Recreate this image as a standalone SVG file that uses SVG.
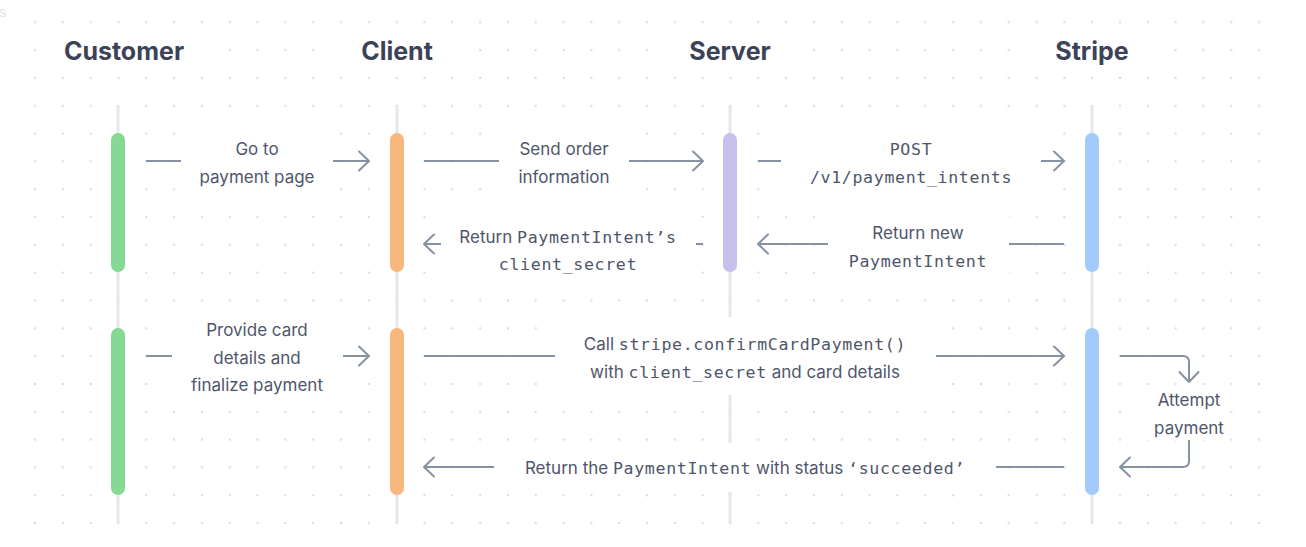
<svg xmlns="http://www.w3.org/2000/svg" width="1306" height="547" viewBox="0 0 1306 547">
<style>
.bg{fill:#ffffff}
.head{font-family:Inter,"Noto Sans","Liberation Sans",sans-serif;font-weight:700;font-size:25px;fill:#3c4257;text-anchor:middle}
.life{stroke:#e3e8ee;stroke-width:3;fill:none}
.lbl{font-family:Inter,"Noto Sans","Liberation Sans",sans-serif;font-size:17px;fill:#4f566b;text-anchor:middle}
.mono{font-family:"DejaVu Sans Mono","Liberation Mono",monospace;font-size:16.6px;letter-spacing:0.65px}
.ln{stroke:#8792a2;stroke-width:2;fill:none;stroke-linecap:butt}
.arr{marker-end:url(#ah)}
</style>
<defs>
<pattern id="dots" x="21.1" y="8.4" width="27.82" height="27.82" patternUnits="userSpaceOnUse">
<circle cx="13.91" cy="13.91" r="1.25" fill="#dadee3"/>
</pattern>
<marker id="ah" markerUnits="userSpaceOnUse" markerWidth="30" markerHeight="30" viewBox="-15 -15 30 30" refX="0" refY="0" orient="auto">
<path d="M-10,-9.5 L0,0 L-10,9.5" stroke="#8792a2" stroke-width="2" fill="none" stroke-linecap="round" stroke-linejoin="round"/>
</marker>
</defs>
<rect x="0" y="0" width="1306" height="547" fill="#ffffff"/>
<rect x="21.1" y="8.4" width="1252" height="529" fill="url(#dots)"/>
<text x="-1" y="17" font-family="Inter,'Liberation Sans',sans-serif" font-size="14" fill="#e1e4e8">s</text>

<g id="customer">
<rect class="bg" x="44" y="31" width="160" height="40"/>
<text class="head" x="124" y="60">Customer</text>
<line class="life" x1="118" y1="105" x2="118" y2="523"/>
<rect x="111" y="133" width="14" height="139" rx="7" fill="#86d995"/>
<rect x="111" y="328" width="14" height="167" rx="7" fill="#86d995"/>
</g>
<g id="client">
<rect class="bg" x="317" y="31" width="160" height="40"/>
<text class="head" x="397" y="60">Client</text>
<line class="life" x1="397" y1="105" x2="397" y2="523"/>
<rect x="390" y="133" width="14" height="139" rx="7" fill="#f8b77f"/>
<rect x="390" y="328" width="14" height="167" rx="7" fill="#f8b77f"/>
</g>
<g id="server">
<rect class="bg" x="650" y="31" width="160" height="40"/>
<text class="head" x="730" y="60">Server</text>
<line class="life" x1="730" y1="105" x2="730" y2="523"/>
<rect x="723" y="133" width="14" height="139" rx="7" fill="#c5c1eb"/>
</g>
<g id="stripe">
<rect class="bg" x="1012" y="31" width="160" height="40"/>
<text class="head" x="1092" y="60">Stripe</text>
<line class="life" x1="1092" y1="105" x2="1092" y2="523"/>
<rect x="1085" y="133" width="14" height="139" rx="7" fill="#a2cbfa"/>
<rect x="1085" y="328" width="14" height="167" rx="7" fill="#a2cbfa"/>
</g>

<g id="connectors">
<g id="m1">
<rect class="bg" x="181" y="122" width="152" height="78"/>
<line class="ln" x1="146" y1="161" x2="181" y2="161"/>
<line class="ln arr" x1="333" y1="161" x2="369" y2="161"/>
<text class="lbl" x="257" y="155">Go to</text>
<text class="lbl" x="257" y="183">payment page</text>
</g>
<g id="m2">
<rect class="bg" x="499" y="122" width="130" height="78"/>
<line class="ln" x1="424" y1="161" x2="499" y2="161"/>
<line class="ln arr" x1="629" y1="161" x2="703" y2="161"/>
<text class="lbl" x="564" y="155">Send order</text>
<text class="lbl" x="564" y="183">information</text>
</g>
<g id="m3">
<rect class="bg" x="781" y="122" width="260" height="78"/>
<line class="ln" x1="758" y1="161" x2="781" y2="161"/>
<line class="ln arr" x1="1041" y1="161" x2="1064" y2="161"/>
<text class="lbl mono" x="911" y="155">POST</text>
<text class="lbl mono" x="911" y="183">/v1/payment_intents</text>
</g>
<g id="m4">
<rect class="bg" x="828" y="205" width="181" height="78"/>
<line class="ln" x1="1064" y1="244" x2="1009" y2="244"/>
<line class="ln arr" x1="828" y1="244" x2="758" y2="244"/>
<text class="lbl" x="918" y="239">Return new</text>
<text class="lbl mono" x="918" y="267">PaymentIntent</text>
</g>
<g id="m5">
<rect class="bg" x="441" y="205" width="255" height="78"/>
<line class="ln" x1="703" y1="244" x2="696" y2="244"/>
<line class="ln arr" x1="441" y1="244" x2="424" y2="244"/>
<text class="lbl" x="568" y="243">Return <tspan class="mono">PaymentIntent’s</tspan></text>
<text class="lbl mono" x="568" y="270">client_secret</text>
</g>
<g id="m6">
<rect class="bg" x="172" y="305" width="171" height="104"/>
<line class="ln" x1="146" y1="356" x2="172" y2="356"/>
<line class="ln arr" x1="343" y1="356" x2="369" y2="356"/>
<text class="lbl" x="257" y="336">Provide card</text>
<text class="lbl" x="257" y="364">details and</text>
<text class="lbl" x="257" y="391">finalize payment</text>
</g>
<g id="m7">
<rect class="bg" x="555" y="317" width="381" height="78"/>
<line class="ln" x1="424" y1="356" x2="555" y2="356"/>
<line class="ln arr" x1="936" y1="356" x2="1064" y2="356"/>
<text class="lbl" x="745" y="350">Call <tspan class="mono">stripe.confirmCardPayment()</tspan></text>
<text class="lbl" x="745" y="378">with <tspan class="mono">client_secret</tspan> and card details</text>
</g>
<g id="m8">
<rect class="bg" x="494" y="443" width="502" height="49"/>
<line class="ln" x1="1064" y1="467" x2="996" y2="467"/>
<line class="ln arr" x1="494" y1="467" x2="424" y2="467"/>
<text class="lbl" x="745" y="474">Return the <tspan class="mono">PaymentIntent</tspan> with status <tspan class="mono">‘succeeded’</tspan></text>
</g>
<g id="m9">
<rect class="bg" x="1143" y="386" width="85" height="54"/>
<path class="ln arr" d="M1120,356 H1183 Q1189,356 1189,362 V382"/>
<path class="ln arr" d="M1189,440 V461 Q1189,467 1183,467 H1120"/>
<text class="lbl" x="1189" y="406">Attempt</text>
<text class="lbl" x="1189" y="434">payment</text>
</g>
</g>
</svg>
